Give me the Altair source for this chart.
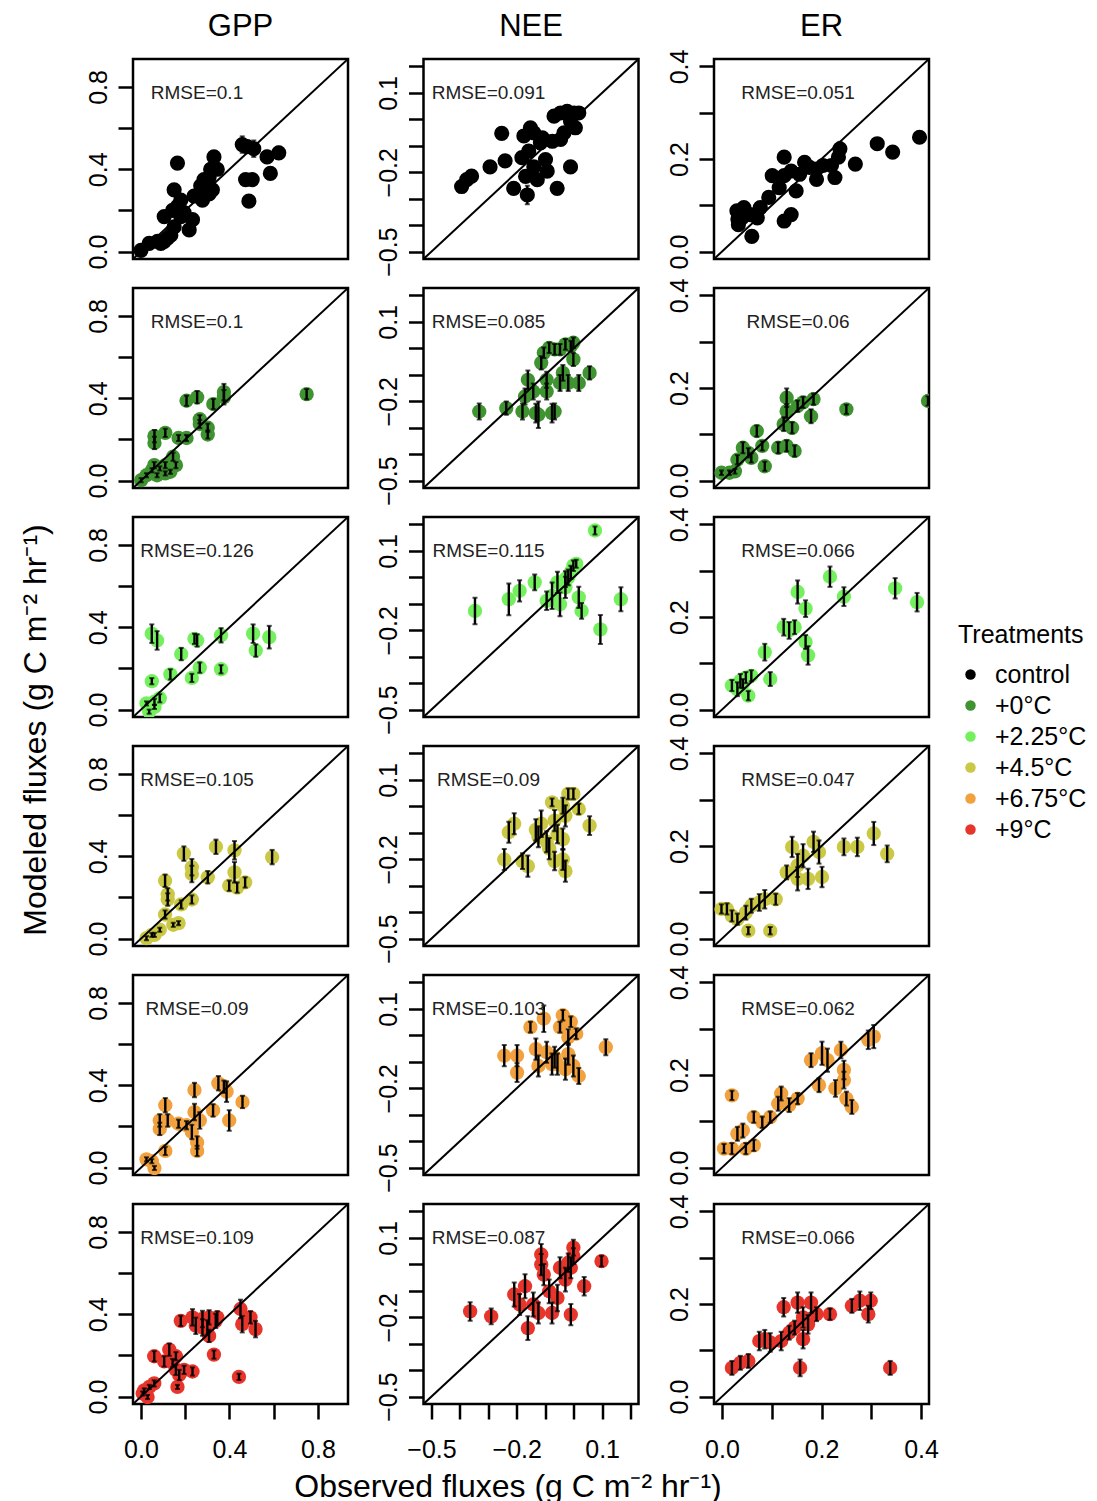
import altair as alt
import pandas as pd

FONT = "Liberation Sans"

treatments = ["control", "+0°C", "+2.25°C", "+4.5°C", "+6.75°C", "+9°C"]
colors = ["#000000", "#3f9330", "#74f05e", "#cac845", "#f1a13e", "#e8352c"]
fluxes = ["GPP", "NEE", "ER"]
y_title = "Modeled fluxes (g C m⁻² hr⁻¹)"
x_title = "Observed fluxes (g C m⁻² hr⁻¹)"

limits = {"GPP": [-0.036, 0.936], "NEE": [-0.528, 0.228], "ER": [-0.016, 0.416]}
tick_values = {"GPP": [0.0, 0.2, 0.4, 0.6, 0.8],
               "NEE": [-0.5, -0.4, -0.3, -0.2, -0.1, 0.0, 0.1, 0.2],
               "ER": [0.0, 0.1, 0.2, 0.3, 0.4]}
tick_labels = {"GPP": [0.0, 0.4, 0.8], "NEE": [-0.5, -0.2, 0.1], "ER": [0.0, 0.2, 0.4]}

rmse_gpp = [0.1, 0.1, 0.126, 0.105, 0.09, 0.109]
rmse_nee = [0.091, 0.085, 0.115, 0.09, 0.103, 0.087]
rmse_er = [0.051, 0.06, 0.066, 0.047, 0.062, 0.066]

# ---------------- control ----------------
GPP_CTRL_OBS = [0.0, 0.037, 0.075, 0.105, 0.135, 0.15, 0.105, 0.143, 0.165, 0.15, 0.165, 0.195, 0.18, 0.233, 0.218, 0.24, 0.27, 0.285, 0.308, 0.315, 0.33, 0.323, 0.308, 0.278, 0.345, 0.458, 0.48, 0.51, 0.473, 0.503, 0.488, 0.57, 0.585, 0.623, 0.09, 0.12, 0.18]
GPP_CTRL_MOD = [0.006, 0.04, 0.05, 0.05, 0.08, 0.12, 0.17, 0.2, 0.22, 0.3, 0.43, 0.19, 0.17, 0.155, 0.105, 0.27, 0.32, 0.35, 0.36, 0.4, 0.46, 0.3, 0.28, 0.25, 0.4, 0.52, 0.51, 0.5, 0.35, 0.35, 0.245, 0.46, 0.38, 0.48, 0.04, 0.065, 0.25]
GPP_CTRL_ERR = [0.01, 0.01, 0.01, 0.01, 0.015, 0.015, 0.02, 0.02, 0.02, 0.02, 0.02, 0.02, 0.015, 0.015, 0.015, 0.02, 0.02, 0.025, 0.025, 0.03, 0.02, 0.02, 0.02, 0.02, 0.025, 0.04, 0.03, 0.04, 0.02, 0.02, 0.02, 0.03, 0.02, 0.03, 0.01, 0.01, 0.02]

NEE_CTRL_OBS = [-0.394, -0.376, -0.359, -0.294, -0.241, -0.253, -0.182, -0.175, -0.152, -0.211, -0.169, -0.163, -0.158, -0.14, -0.128, -0.117, -0.11, -0.099, -0.093, -0.075, -0.058, -0.046, -0.034, -0.069, -0.046, -0.023, 0.001, 0.018, 0.006, -0.011, -0.011, -0.14]
NEE_CTRL_MOD = [-0.254, -0.228, -0.215, -0.18, -0.157, -0.053, -0.145, -0.063, -0.032, -0.261, -0.216, -0.286, -0.12, -0.18, -0.228, -0.089, -0.07, -0.152, -0.196, -0.083, -0.261, -0.076, -0.051, 0.012, 0.024, 0.03, 0.024, 0.024, -0.032, -0.007, -0.18, -0.051]
NEE_CTRL_ERR = [0.02, 0.02, 0.02, 0.015, 0.015, 0.015, 0.02, 0.02, 0.015, 0.02, 0.02, 0.035, 0.02, 0.02, 0.02, 0.02, 0.02, 0.02, 0.02, 0.02, 0.02, 0.02, 0.02, 0.015, 0.015, 0.015, 0.015, 0.015, 0.02, 0.02, 0.015, 0.02]

ER_CTRL_OBS = [0.03, 0.032, 0.044, 0.04, 0.057, 0.071, 0.06, 0.094, 0.101, 0.115, 0.125, 0.125, 0.139, 0.125, 0.139, 0.149, 0.156, 0.166, 0.176, 0.19, 0.19, 0.203, 0.22, 0.227, 0.234, 0.237, 0.268, 0.312, 0.343, 0.397, 0.033, 0.077]
ER_CTRL_MOD = [0.088, 0.07, 0.095, 0.073, 0.08, 0.073, 0.033, 0.117, 0.164, 0.138, 0.204, 0.164, 0.174, 0.066, 0.08, 0.131, 0.167, 0.193, 0.182, 0.178, 0.156, 0.186, 0.186, 0.16, 0.204, 0.222, 0.189, 0.233, 0.215, 0.247, 0.058, 0.095]
ER_CTRL_ERR = [0.008, 0.008, 0.01, 0.008, 0.008, 0.008, 0.006, 0.01, 0.01, 0.01, 0.012, 0.01, 0.01, 0.008, 0.008, 0.01, 0.01, 0.01, 0.01, 0.01, 0.01, 0.01, 0.01, 0.01, 0.012, 0.015, 0.01, 0.01, 0.01, 0.012, 0.008, 0.008]

# ---------------- +0°C ----------------
GPP_P0_OBS = [0.001, 0.025, 0.05, 0.06, 0.085, 0.11, 0.133, 0.11, 0.158, 0.145, 0.061, 0.061, 0.11, 0.17, 0.206, 0.206, 0.254, 0.266, 0.266, 0.302, 0.302, 0.327, 0.375, 0.375, 0.749, 0.073]
GPP_P0_MOD = [0.002, 0.026, 0.05, 0.075, 0.059, 0.075, 0.043, 0.035, 0.075, 0.116, 0.216, 0.183, 0.232, 0.207, 0.207, 0.388, 0.405, 0.298, 0.275, 0.257, 0.224, 0.372, 0.405, 0.43, 0.42, 0.026]
GPP_P0_ERR = [0.01, 0.01, 0.01, 0.015, 0.01, 0.015, 0.01, 0.01, 0.015, 0.02, 0.03, 0.03, 0.02, 0.015, 0.015, 0.025, 0.03, 0.02, 0.02, 0.02, 0.02, 0.025, 0.035, 0.04, 0.025, 0.01]

NEE_P0_OBS = [-0.332, -0.237, -0.18, -0.171, -0.161, -0.142, -0.133, -0.124, -0.095, -0.076, -0.067, -0.095, -0.114, -0.105, -0.086, -0.067, -0.048, -0.029, -0.01, -0.001, -0.038, -0.048, -0.019, 0.018, 0.056, -0.001]
NEE_P0_MOD = [-0.239, -0.226, -0.239, -0.182, -0.119, -0.163, -0.245, -0.251, -0.163, -0.245, -0.239, -0.119, -0.055, -0.017, 0.002, -0.004, -0.004, 0.015, 0.009, -0.042, -0.093, -0.131, -0.131, -0.131, -0.093, 0.021]
NEE_P0_ERR = [0.03, 0.025, 0.03, 0.03, 0.035, 0.03, 0.035, 0.05, 0.03, 0.035, 0.03, 0.03, 0.025, 0.02, 0.02, 0.02, 0.02, 0.02, 0.02, 0.025, 0.03, 0.03, 0.03, 0.03, 0.025, 0.02]

ER_P0_OBS = [-0.001, 0.015, 0.026, 0.031, 0.042, 0.053, 0.059, 0.07, 0.086, 0.081, 0.113, 0.13, 0.124, 0.13, 0.13, 0.141, 0.146, 0.152, 0.163, 0.179, 0.184, 0.25, 0.414]
ER_P0_MOD = [0.017, 0.017, 0.02, 0.045, 0.071, 0.06, 0.049, 0.107, 0.031, 0.075, 0.071, 0.075, 0.122, 0.15, 0.179, 0.114, 0.064, 0.161, 0.169, 0.139, 0.176, 0.154, 0.172]
ER_P0_ERR = [0.005, 0.005, 0.005, 0.01, 0.012, 0.01, 0.01, 0.012, 0.01, 0.01, 0.012, 0.012, 0.015, 0.015, 0.02, 0.012, 0.012, 0.012, 0.012, 0.015, 0.012, 0.01, 0.01]

# ---------------- +2.25°C ----------------
GPP_P225_OBS = [0.049, 0.073, 0.037, 0.061, 0.025, 0.085, 0.049, 0.133, 0.182, 0.23, 0.242, 0.254, 0.266, 0.362, 0.362, 0.507, 0.519, 0.58, 0.061]
GPP_P225_MOD = [0.369, 0.336, -0.01, 0.038, 0.03, 0.055, 0.138, 0.171, 0.27, 0.154, 0.344, 0.336, 0.204, 0.361, 0.196, 0.369, 0.287, 0.352, 0.013]
GPP_P225_ERR = [0.045, 0.045, 0.01, 0.015, 0.01, 0.02, 0.015, 0.025, 0.03, 0.02, 0.025, 0.03, 0.025, 0.035, 0.02, 0.045, 0.03, 0.055, 0.01]

NEE_P225_OBS = [-0.347, -0.228, -0.19, -0.137, -0.095, -0.076, -0.057, -0.048, -0.029, -0.019, -0.01, -0.001, 0.009, 0.018, 0.028, 0.094, 0.075, 0.166, -0.029]
NEE_P225_MOD = [-0.127, -0.083, -0.051, -0.019, -0.089, -0.07, -0.019, -0.102, -0.038, 0.0, 0.019, 0.044, 0.051, -0.076, -0.127, -0.197, 0.177, -0.083, -0.007]
NEE_P225_ERR = [0.05, 0.06, 0.04, 0.03, 0.035, 0.05, 0.04, 0.045, 0.04, 0.03, 0.025, 0.02, 0.015, 0.04, 0.03, 0.055, 0.015, 0.045, 0.03]

ER_P225_OBS = [0.02, 0.031, 0.037, 0.048, 0.059, 0.053, 0.097, 0.086, 0.124, 0.135, 0.146, 0.152, 0.168, 0.168, 0.173, 0.217, 0.245, 0.348, 0.392, 0.042]
ER_P225_MOD = [0.052, 0.044, 0.062, 0.069, 0.073, 0.03, 0.066, 0.124, 0.178, 0.171, 0.178, 0.254, 0.218, 0.146, 0.117, 0.287, 0.244, 0.262, 0.232, 0.056]
ER_P225_ERR = [0.012, 0.015, 0.015, 0.012, 0.012, 0.01, 0.015, 0.018, 0.018, 0.018, 0.015, 0.025, 0.018, 0.015, 0.02, 0.022, 0.02, 0.022, 0.02, 0.01]

# ---------------- +4.5°C ----------------
GPP_P45_OBS = [0.025, 0.049, 0.085, 0.146, 0.17, 0.109, 0.121, 0.121, 0.109, 0.182, 0.23, 0.194, 0.23, 0.23, 0.302, 0.339, 0.423, 0.423, 0.399, 0.435, 0.471, 0.593, 0.061]
GPP_P45_MOD = [0.002, 0.018, 0.043, 0.067, 0.075, 0.117, 0.19, 0.215, 0.281, 0.166, 0.19, 0.413, 0.347, 0.314, 0.298, 0.446, 0.429, 0.322, 0.257, 0.248, 0.273, 0.396, 0.018]
GPP_P45_ERR = [0.01, 0.01, 0.01, 0.01, 0.01, 0.02, 0.03, 0.03, 0.03, 0.02, 0.02, 0.035, 0.04, 0.04, 0.03, 0.035, 0.045, 0.05, 0.025, 0.025, 0.025, 0.035, 0.01]

NEE_P45_OBS = [-0.244, -0.228, -0.209, -0.18, -0.161, -0.133, -0.124, -0.114, -0.095, -0.086, -0.067, -0.057, -0.038, -0.038, -0.029, -0.067, -0.076, -0.029, -0.019, -0.001, 0.018, 0.056, -0.038]
NEE_P45_MOD = [-0.201, -0.098, -0.066, -0.207, -0.226, -0.089, -0.115, -0.066, -0.134, -0.16, -0.054, -0.105, -0.124, -0.201, -0.245, -0.207, 0.015, -0.036, 0.047, 0.047, -0.01, -0.073, 0.002]
NEE_P45_ERR = [0.04, 0.04, 0.04, 0.03, 0.04, 0.04, 0.04, 0.05, 0.04, 0.04, 0.04, 0.035, 0.04, 0.04, 0.04, 0.035, 0.015, 0.04, 0.02, 0.02, 0.02, 0.035, 0.03]

ER_P45_OBS = [-0.001, 0.01, 0.02, 0.048, 0.059, 0.075, 0.086, 0.108, 0.053, 0.097, 0.13, 0.141, 0.152, 0.152, 0.163, 0.173, 0.184, 0.195, 0.201, 0.245, 0.272, 0.305, 0.332, 0.031]
ER_P45_MOD = [0.064, 0.064, 0.049, 0.056, 0.071, 0.078, 0.085, 0.085, 0.017, 0.017, 0.143, 0.198, 0.158, 0.129, 0.179, 0.129, 0.209, 0.187, 0.133, 0.198, 0.198, 0.227, 0.183, 0.042]
ER_P45_ERR = [0.01, 0.012, 0.012, 0.015, 0.015, 0.018, 0.02, 0.012, 0.008, 0.008, 0.015, 0.022, 0.025, 0.025, 0.025, 0.022, 0.022, 0.025, 0.022, 0.018, 0.02, 0.025, 0.018, 0.012]

# ---------------- +6.75°C ----------------
GPP_P675_OBS = [0.025, 0.049, 0.061, 0.11, 0.085, 0.085, 0.11, 0.121, 0.17, 0.206, 0.23, 0.242, 0.242, 0.254, 0.266, 0.254, 0.326, 0.35, 0.387, 0.399, 0.459, 0.375]
GPP_P675_MOD = [0.04, 0.031, -0.002, 0.081, 0.229, 0.188, 0.303, 0.229, 0.213, 0.206, 0.173, 0.377, 0.27, 0.122, 0.229, 0.081, 0.278, 0.41, 0.369, 0.229, 0.319, 0.393]
GPP_P675_ERR = [0.01, 0.01, 0.01, 0.02, 0.03, 0.03, 0.035, 0.03, 0.02, 0.02, 0.035, 0.035, 0.04, 0.03, 0.04, 0.025, 0.03, 0.035, 0.05, 0.05, 0.03, 0.03]

NEE_P675_OBS = [-0.244, -0.199, -0.199, -0.152, -0.133, -0.124, -0.105, -0.095, -0.076, -0.067, -0.057, -0.048, -0.038, -0.029, -0.019, -0.001, -0.01, 0.009, 0.018, 0.113, -0.019]
NEE_P675_MOD = [-0.077, -0.077, -0.141, 0.031, -0.052, -0.116, 0.063, -0.064, -0.109, -0.083, -0.109, 0.031, 0.076, -0.128, -0.071, -0.116, 0.051, 0.006, -0.154, -0.045, -0.007]
NEE_P675_ERR = [0.04, 0.04, 0.035, 0.02, 0.04, 0.04, 0.05, 0.04, 0.04, 0.04, 0.04, 0.02, 0.02, 0.04, 0.04, 0.04, 0.02, 0.02, 0.03, 0.03, 0.03]

ER_P675_OBS = [0.004, 0.02, 0.02, 0.031, 0.042, 0.048, 0.064, 0.064, 0.081, 0.097, 0.113, 0.119, 0.135, 0.152, 0.179, 0.195, 0.201, 0.212, 0.228, 0.239, 0.245, 0.245, 0.25, 0.261, 0.294, 0.305]
ER_P675_MOD = [0.041, 0.041, 0.156, 0.073, 0.08, 0.041, 0.048, 0.109, 0.098, 0.109, 0.138, 0.16, 0.135, 0.149, 0.232, 0.178, 0.247, 0.232, 0.171, 0.254, 0.189, 0.211, 0.149, 0.131, 0.276, 0.283]
ER_P675_ERR = [0.01, 0.012, 0.01, 0.015, 0.015, 0.012, 0.012, 0.012, 0.012, 0.012, 0.015, 0.015, 0.015, 0.012, 0.015, 0.015, 0.025, 0.025, 0.018, 0.018, 0.018, 0.02, 0.015, 0.015, 0.02, 0.025]

# ---------------- +9°C ----------------
GPP_P9_OBS = [0.008, 0.03, 0.038, 0.06, 0.015, 0.06, 0.105, 0.128, 0.158, 0.143, 0.158, 0.173, 0.195, 0.165, 0.233, 0.18, 0.233, 0.248, 0.278, 0.278, 0.308, 0.308, 0.338, 0.345, 0.33, 0.45, 0.458, 0.495, 0.518, 0.443, 0.3]
GPP_P9_MOD = [0.015, -0.002, 0.047, 0.064, 0.03, 0.196, 0.171, 0.228, 0.196, 0.163, 0.13, 0.105, 0.13, 0.047, 0.122, 0.368, 0.385, 0.344, 0.377, 0.336, 0.385, 0.295, 0.368, 0.385, 0.204, 0.426, 0.352, 0.385, 0.328, 0.096, 0.336]
GPP_P9_ERR = [0.01, 0.01, 0.01, 0.015, 0.01, 0.025, 0.025, 0.03, 0.02, 0.02, 0.025, 0.025, 0.02, 0.01, 0.02, 0.025, 0.04, 0.04, 0.04, 0.04, 0.035, 0.03, 0.035, 0.03, 0.02, 0.045, 0.04, 0.03, 0.04, 0.015, 0.035]

NEE_P9_OBS = [-0.364, -0.29, -0.209, -0.19, -0.171, -0.161, -0.142, -0.124, -0.114, -0.114, -0.105, -0.086, -0.076, -0.057, -0.048, -0.029, -0.01, -0.01, -0.001, -0.001, 0.037, 0.098, -0.019]
NEE_P9_MOD = [-0.178, -0.197, -0.114, -0.152, -0.083, -0.241, -0.152, -0.184, -0.001, 0.037, -0.039, -0.102, -0.184, -0.127, -0.013, -0.058, -0.19, -0.013, 0.063, 0.031, -0.083, 0.012, 0.006]
NEE_P9_ERR = [0.035, 0.03, 0.045, 0.04, 0.045, 0.045, 0.045, 0.04, 0.04, 0.04, 0.04, 0.045, 0.04, 0.05, 0.04, 0.045, 0.04, 0.04, 0.03, 0.03, 0.035, 0.02, 0.035]

ER_P9_OBS = [0.02, 0.037, 0.053, 0.075, 0.086, 0.097, 0.119, 0.124, 0.135, 0.146, 0.152, 0.163, 0.157, 0.163, 0.179, 0.19, 0.217, 0.261, 0.277, 0.294, 0.299, 0.338, 0.173]
ER_P9_MOD = [0.062, 0.073, 0.077, 0.12, 0.124, 0.117, 0.12, 0.193, 0.138, 0.149, 0.203, 0.124, 0.062, 0.171, 0.203, 0.178, 0.178, 0.196, 0.207, 0.178, 0.207, 0.062, 0.156]
ER_P9_ERR = [0.015, 0.015, 0.015, 0.02, 0.02, 0.02, 0.02, 0.02, 0.015, 0.015, 0.022, 0.02, 0.018, 0.022, 0.022, 0.015, 0.012, 0.015, 0.02, 0.018, 0.018, 0.015, 0.02]

panel_data = [
    [(GPP_CTRL_OBS, GPP_CTRL_MOD, GPP_CTRL_ERR), (NEE_CTRL_OBS, NEE_CTRL_MOD, NEE_CTRL_ERR), (ER_CTRL_OBS, ER_CTRL_MOD, ER_CTRL_ERR)],
    [(GPP_P0_OBS, GPP_P0_MOD, GPP_P0_ERR), (NEE_P0_OBS, NEE_P0_MOD, NEE_P0_ERR), (ER_P0_OBS, ER_P0_MOD, ER_P0_ERR)],
    [(GPP_P225_OBS, GPP_P225_MOD, GPP_P225_ERR), (NEE_P225_OBS, NEE_P225_MOD, NEE_P225_ERR), (ER_P225_OBS, ER_P225_MOD, ER_P225_ERR)],
    [(GPP_P45_OBS, GPP_P45_MOD, GPP_P45_ERR), (NEE_P45_OBS, NEE_P45_MOD, NEE_P45_ERR), (ER_P45_OBS, ER_P45_MOD, ER_P45_ERR)],
    [(GPP_P675_OBS, GPP_P675_MOD, GPP_P675_ERR), (NEE_P675_OBS, NEE_P675_MOD, NEE_P675_ERR), (ER_P675_OBS, ER_P675_MOD, ER_P675_ERR)],
    [(GPP_P9_OBS, GPP_P9_MOD, GPP_P9_ERR), (NEE_P9_OBS, NEE_P9_MOD, NEE_P9_ERR), (ER_P9_OBS, ER_P9_MOD, ER_P9_ERR)],
]
rmse_cols = [rmse_gpp, rmse_nee, rmse_er]
rmse_text_x = [64, 65, 84]  # label centre, px from panel left

PANEL_W = 215
PANEL_H = 200


def label_expr(vals):
    cond = " || ".join(f"abs(datum.value - ({v})) < 1e-6" for v in vals)
    return f"({cond}) ? format(datum.value, '.1f') : ''"


def make_panel(ti, fi):
    flux = fluxes[fi]
    lo, hi = limits[flux]
    obs, mod, err = panel_data[ti][fi]
    df = pd.DataFrame({"obs": obs, "mod": mod, "err": err})
    df["lo"] = df["mod"] - df["err"]
    df["hi"] = df["mod"] + df["err"]
    df["Treatments"] = treatments[ti]

    xs = alt.Scale(domain=[lo, hi], nice=False, zero=False)
    ys = alt.Scale(domain=[lo, hi], nice=False, zero=False)

    bottom = ti == len(treatments) - 1
    if bottom:
        xkw = dict(values=tick_values[flux], labelExpr=label_expr(tick_labels[flux]),
                   labelPadding=18, labelAngle=0)
        if flux == "NEE":
            xaxis = alt.Axis(title=x_title, titleFontSize=32,
                             titleFont=FONT, titleFontWeight="normal", titleColor="black",
                             titleX=84, titleY=82, titleBaseline="middle", **xkw)
        else:
            xaxis = alt.Axis(title=None, **xkw)
    else:
        xaxis = None
    yaxis = alt.Axis(title=None, values=tick_values[flux], labelExpr=label_expr(tick_labels[flux]),
                     labelAngle=270, labelAlign="center", labelBaseline="bottom", labelPadding=7)

    def X(field):
        return alt.X(f"{field}:Q", scale=xs, axis=xaxis)

    def Y(field):
        return alt.Y(f"{field}:Q", scale=ys, axis=yaxis)

    diag = alt.Chart(pd.DataFrame({"obs": [lo, hi], "mod": [lo, hi]})).mark_line(
        color="black", strokeWidth=2, clip=True).encode(x=X("obs"), y=Y("mod"))

    psize = 230 if ti == 0 else 205
    pts = alt.Chart(df).mark_circle(size=psize, opacity=1, clip=True).encode(
        x=X("obs"), y=Y("mod"),
        color=alt.Color("Treatments:N",
                        scale=alt.Scale(domain=treatments, range=colors),
                        legend=alt.Legend(orient="none", legendX=825, legendY=564,
                                          title="Treatments", titleFontSize=25,
                                          titleFont=FONT, titleFontWeight="normal",
                                          titleColor="black", labelFont=FONT,
                                          labelFontSize=25, labelColor="black",
                                          symbolType="circle", symbolSize=110,
                                          symbolStrokeWidth=0, rowPadding=5,
                                          titlePadding=14, labelOffset=12)))

    bars = alt.Chart(df).mark_rule(color="black", strokeWidth=2.4, clip=True).encode(
        x=X("obs"), y=Y("lo"), y2="hi:Q")
    cap_lo = alt.Chart(df).mark_tick(color="black", orient="horizontal", size=5,
                                     thickness=2, clip=True).encode(x=X("obs"), y=Y("lo"))
    cap_hi = alt.Chart(df).mark_tick(color="black", orient="horizontal", size=5,
                                     thickness=2, clip=True).encode(x=X("obs"), y=Y("hi"))

    txt = alt.Chart(pd.DataFrame({"t": [f"RMSE={rmse_cols[fi][ti]}"]})).mark_text(
        font=FONT, fontSize=19, color="#222222", align="center", baseline="middle").encode(
        x=alt.value(rmse_text_x[fi]), y=alt.value(34), text="t:N")

    layers = [pts, bars, cap_lo, cap_hi, diag, txt]
    if ti == 0:
        header = alt.Chart(pd.DataFrame({"t": [flux]})).mark_text(
            font=FONT, fontSize=31, color="black", align="center", baseline="middle").encode(
            x=alt.value(PANEL_W / 2), y=alt.value(-32), text="t:N")
        layers.append(header)
    if ti == 3 and fi == 0:
        ylab = alt.Chart(pd.DataFrame({"t": [y_title]})).mark_text(
            font=FONT, fontSize=32, color="black", align="center", baseline="middle",
            angle=270).encode(x=alt.value(-97), y=alt.value(-16), text="t:N")
        layers.append(ylab)

    return alt.layer(*layers).properties(width=PANEL_W, height=PANEL_H)


panels = [make_panel(ti, fi) for ti in range(len(treatments)) for fi in range(len(fluxes))]

chart = alt.concat(
    *panels, columns=3, spacing={"row": 29, "column": 75.5}, bounds="flush"
).resolve_scale(
    x="independent", y="independent", color="shared"
).properties(
    padding={"left": 18, "top": 9, "right": 5, "bottom": 3},
).configure_view(
    stroke="black", strokeWidth=2.5
).configure_axis(
    labelFont=FONT, labelFontSize=25, labelColor="black", tickColor="black",
    tickWidth=2.5, tickSize=15, domain=False, grid=False, labelOverlap=False, labelFlush=False
)

chart.save("out.html", embed_options={"renderer": "svg", "actions": False})
